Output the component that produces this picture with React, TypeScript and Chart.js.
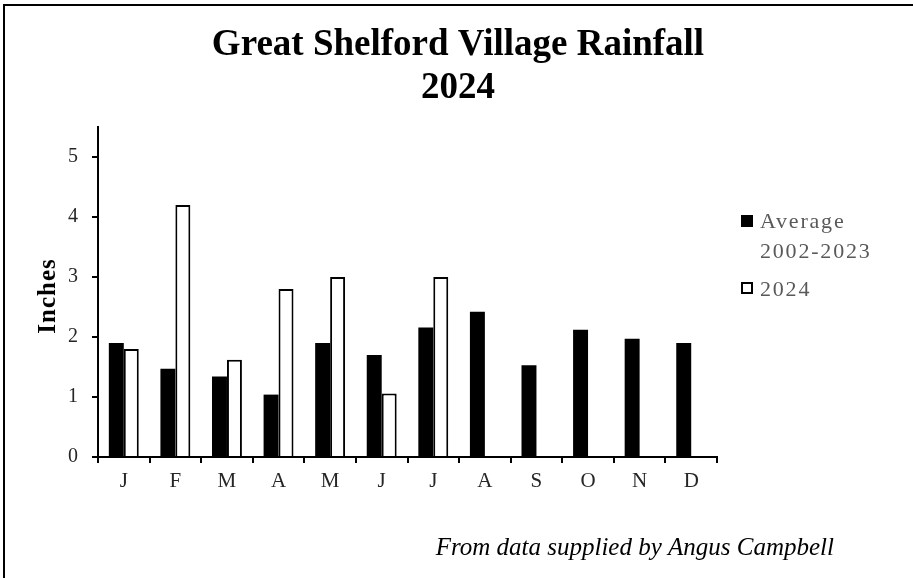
import React, { useEffect, useRef } from "react";
import { Chart, registerables } from "chart.js";

Chart.register(...registerables);

const months = ["J", "F", "M", "A", "M", "J", "J", "A", "S", "O", "N", "D"];
const average20022023 = [1.9, 1.47, 1.34, 1.04, 1.9, 1.7, 2.16, 2.42, 1.53, 2.12, 1.97, 1.9];
const rain2024 = [1.8, 4.2, 1.62, 2.8, 3.0, 1.06, 3.0, null, null, null, null, null];
const yTicks = [0, 1, 2, 3, 4, 5];
const titleLines = ["Great Shelford Village Rainfall", "2024"];
const legendAvgLines = ["Average", "2002-2023"];
const legend2024 = "2024";
const yTitle = "Inches";
const footer = "From data supplied by Angus Campbell";

const SERIF = "'Liberation Serif', 'Times New Roman', serif";

const decorPlugin = {
  id: "decor",
  afterDraw(chart: any) {
    const ctx = chart.ctx as CanvasRenderingContext2D;
    ctx.save();
    // frame
    ctx.strokeStyle = "#000";
    ctx.lineWidth = 2;
    ctx.strokeRect(4, 5, 1200, 1200);

    // title
    ctx.fillStyle = "#000";
    ctx.textAlign = "center";
    ctx.textBaseline = "alphabetic";
    ctx.font = `bold 37px ${SERIF}`;
    ctx.fillText(titleLines[0], 458, 55);
    ctx.fillText(titleLines[1], 458, 98);

    // y title
    ctx.save();
    ctx.translate(55, 296);
    ctx.rotate(-Math.PI / 2);
    ctx.font = `bold 25px ${SERIF}`;
    (ctx as any).letterSpacing = "1px";
    ctx.textAlign = "center";
    ctx.fillText(yTitle, 0, 0);
    ctx.restore();

    // legend
    ctx.fillStyle = "#000";
    ctx.fillRect(741, 215, 12, 12);
    ctx.fillStyle = "#fff";
    ctx.fillRect(741, 282, 12, 12);
    ctx.strokeStyle = "#000";
    ctx.lineWidth = 2;
    ctx.strokeRect(742, 283, 10, 10);
    ctx.fillStyle = "#595959";
    ctx.font = `22px ${SERIF}`;
    (ctx as any).letterSpacing = "1.8px";
    ctx.textAlign = "left";
    ctx.fillText(legendAvgLines[0], 760, 228);
    ctx.fillText(legendAvgLines[1], 760, 258);
    ctx.fillText(legend2024, 760, 296);
    (ctx as any).letterSpacing = "0px";

    // footer
    ctx.fillStyle = "#000";
    ctx.font = `italic 25px ${SERIF}`;
    ctx.textAlign = "right";
    ctx.fillText(footer, 834, 555);
    ctx.restore();
  },
};

export default function App() {
  const ref = useRef<HTMLCanvasElement>(null);
  useEffect(() => {
    document.body.style.margin = "0";
    const chart = new Chart(ref.current as HTMLCanvasElement, {
      type: "bar",
      data: {
        labels: months,
        datasets: [
          {
            label: "Average 2002-2023",
            data: average20022023,
            backgroundColor: "#000",
            borderColor: "#000",
            borderWidth: 0,
            categoryPercentage: 0.58,
            barPercentage: 1,
          },
          {
            label: "2024",
            data: rain2024 as any,
            backgroundColor: "#fff",
            borderColor: "#000",
            borderWidth: 2,
            categoryPercentage: 0.58,
            barPercentage: 1,
          },
        ],
      },
      options: {
        responsive: false,
        animation: false,
        devicePixelRatio: 1,
        layout: { padding: { left: 0, top: 127, right: 196, bottom: 0 } },
        plugins: {
          legend: { display: false },
          title: { display: false },
          tooltip: { enabled: false },
        },
        scales: {
          x: {
            offset: true,
            grid: {
              display: true,
              offset: true,
              drawOnChartArea: false,
              drawTicks: true,
              tickLength: 6,
              color: "#000",
              lineWidth: 2,
            },
            border: { display: true, color: "#000", width: 2 },
            ticks: {
              color: "#262626",
              font: { family: SERIF, size: 21 },
              padding: 6,
              maxRotation: 0,
              autoSkip: false,
            },
            afterFit: (scale: any) => {
              scale.height = 121;
            },
          },
          y: {
            min: 0,
            max: 5.5,
            grid: {
              display: true,
              drawOnChartArea: false,
              drawTicks: true,
              tickLength: 6,
              color: "#000",
              lineWidth: 2,
            },
            border: { display: true, color: "#000", width: 2 },
            ticks: {
              stepSize: 1,
              color: "#262626",
              font: { family: SERIF, size: 20 },
              padding: 14,
            },
            afterBuildTicks: (scale: any) => {
              scale.ticks = yTicks.map((v) => ({ value: v }));
            },
            afterFit: (scale: any) => {
              scale.width = 98;
            },
          },
        },
      },
      plugins: [decorPlugin],
    });
    return () => chart.destroy();
  }, []);
  return (
    <div
      style={{
        position: "fixed",
        left: 0,
        top: 0,
        width: 913,
        height: 578,
        overflow: "hidden",
        background: "#fff",
      }}
    >
      <canvas ref={ref} width={913} height={578} style={{ display: "block", width: 913, height: 578 }} />
    </div>
  );
}
